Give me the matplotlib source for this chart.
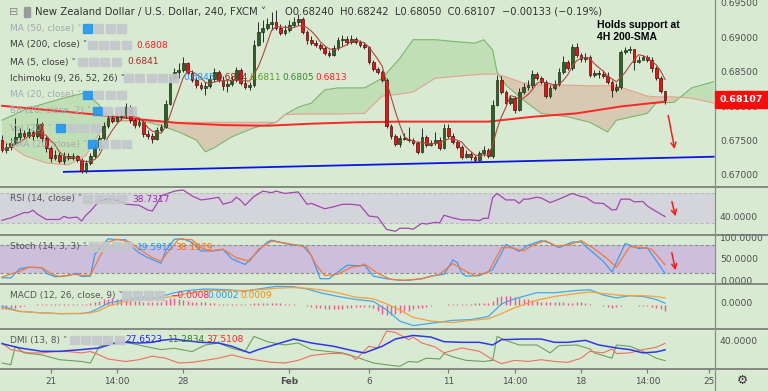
import numpy as np
import pandas as pd
import matplotlib
matplotlib.use("Agg")
import matplotlib.pyplot as plt
from matplotlib.lines import Line2D
from matplotlib.patches import Rectangle

W, H = 768, 391
AX_R = 715          # pixel x of the price-scale border
XMIN, XMAX = -0.45, 161.3

BG = "#d9ead3"
SEP = "#6e6e6e"
AXIS_TXT = "#4d4d4d"

plt.rcParams["font.family"] = ["DejaVu Sans"]

# ---- NZD/USD 240 candles ----
first_open = 0.6752
closes = [0.6738, 0.6742, 0.6748, 0.6756, 0.6762, 0.6758, 0.6764, 0.6758, 0.6776, 0.6755,
          0.6741, 0.6726, 0.6730, 0.6722, 0.6729, 0.6726, 0.6729, 0.6723, 0.6707, 0.6719,
          0.6729, 0.6742, 0.6755, 0.6773, 0.6784, 0.6780, 0.6786, 0.6789, 0.6800, 0.6781,
          0.6774, 0.6778, 0.6761, 0.6758, 0.6754, 0.6767, 0.6771, 0.6805, 0.6842, 0.6851,
          0.6854, 0.6864, 0.6850, 0.6839, 0.6832, 0.6828, 0.6831, 0.6841, 0.6851, 0.6839,
          0.6831, 0.6834, 0.6839, 0.6854, 0.6835, 0.6829, 0.6832, 0.6890, 0.6909, 0.6915,
          0.6921, 0.6924, 0.6915, 0.6908, 0.6912, 0.6919, 0.6924, 0.6928, 0.6909, 0.6898,
          0.6893, 0.6890, 0.6886, 0.6879, 0.6876, 0.6886, 0.6898, 0.6899, 0.6895, 0.6899,
          0.6895, 0.6890, 0.6887, 0.6866, 0.6855, 0.6851, 0.6839, 0.6773, 0.6758, 0.6746,
          0.6755, 0.6754, 0.6752, 0.6748, 0.6735, 0.6756, 0.6745, 0.6748, 0.6752, 0.6741,
          0.6770, 0.6758, 0.6749, 0.6742, 0.6728, 0.6732, 0.6728, 0.6723, 0.6733, 0.6738,
          0.6729, 0.6803, 0.6839, 0.6822, 0.6806, 0.6813, 0.6796, 0.6822, 0.6829, 0.6832,
          0.6848, 0.6842, 0.6837, 0.6816, 0.6828, 0.6834, 0.6851, 0.6866, 0.6857, 0.6887,
          0.6876, 0.6870, 0.6873, 0.6847, 0.6850, 0.6848, 0.6845, 0.6837, 0.6825, 0.6829,
          0.6880, 0.6883, 0.6884, 0.6866, 0.6868, 0.6873, 0.6868, 0.6857, 0.6842, 0.6824,
          0.68107]
highs = [0.6759, 0.6748, 0.6755, 0.6784, 0.6770, 0.6767, 0.6770, 0.6767, 0.6784, 0.6778,
         0.6758, 0.6744, 0.6738, 0.6735, 0.6735, 0.6733, 0.6733, 0.6730, 0.6726, 0.6723,
         0.6733, 0.6746, 0.6759, 0.6778, 0.6789, 0.6789, 0.6791, 0.6796, 0.6806, 0.6803,
         0.6784, 0.6784, 0.6781, 0.6767, 0.6762, 0.6771, 0.6776, 0.6810, 0.6847, 0.6857,
         0.6864, 0.6873, 0.6866, 0.6854, 0.6844, 0.6837, 0.6837, 0.6847, 0.6857, 0.6854,
         0.6845, 0.6839, 0.6845, 0.6858, 0.6857, 0.6841, 0.6837, 0.6898, 0.6924, 0.6927,
         0.6930, 0.6938, 0.6941, 0.6921, 0.6919, 0.6927, 0.6931, 0.6935, 0.6931, 0.6912,
         0.6903, 0.6898, 0.6893, 0.6889, 0.6883, 0.6890, 0.6902, 0.6905, 0.6903, 0.6905,
         0.6902, 0.6898, 0.6895, 0.6889, 0.6868, 0.6858, 0.6854, 0.6842, 0.6776, 0.6761,
         0.6759, 0.6762, 0.6771, 0.6755, 0.6751, 0.6770, 0.6759, 0.6752, 0.6764, 0.6756,
         0.6776, 0.6776, 0.6762, 0.6752, 0.6745, 0.6738, 0.6735, 0.6730, 0.6736, 0.6744,
         0.6741, 0.6810, 0.6847, 0.6845, 0.6825, 0.6818, 0.6816, 0.6828, 0.6835, 0.6839,
         0.6854, 0.6851, 0.6845, 0.6839, 0.6832, 0.6839, 0.6857, 0.6874, 0.6868, 0.6892,
         0.6893, 0.6879, 0.6879, 0.6876, 0.6854, 0.6854, 0.6854, 0.6851, 0.6839, 0.6835,
         0.6883, 0.6887, 0.6889, 0.6884, 0.6874, 0.6876, 0.6876, 0.6873, 0.6860, 0.6845,
         0.68242]
lows = [0.6735, 0.6733, 0.6738, 0.6746, 0.6752, 0.6755, 0.6755, 0.6752, 0.6755, 0.6749,
        0.6735, 0.6720, 0.6723, 0.6719, 0.6717, 0.6723, 0.6723, 0.6720, 0.6704, 0.6704,
        0.6716, 0.6726, 0.6738, 0.6752, 0.6770, 0.6777, 0.6778, 0.6781, 0.6784, 0.6777,
        0.6770, 0.6771, 0.6756, 0.6754, 0.6748, 0.6752, 0.6764, 0.6770, 0.6803, 0.6839,
        0.6842, 0.6851, 0.6847, 0.6837, 0.6828, 0.6825, 0.6818, 0.6828, 0.6837, 0.6837,
        0.6825, 0.6822, 0.6831, 0.6837, 0.6832, 0.6826, 0.6825, 0.6829, 0.6889, 0.6895,
        0.6912, 0.6912, 0.6912, 0.6905, 0.6905, 0.6909, 0.6916, 0.6919, 0.6906, 0.6892,
        0.6890, 0.6887, 0.6883, 0.6876, 0.6873, 0.6874, 0.6883, 0.6889, 0.6890, 0.6892,
        0.6892, 0.6887, 0.6884, 0.6863, 0.6852, 0.6848, 0.6837, 0.6770, 0.6754, 0.6744,
        0.6742, 0.6752, 0.6749, 0.6745, 0.6732, 0.6733, 0.6742, 0.6744, 0.6745, 0.6738,
        0.6739, 0.6755, 0.6746, 0.6739, 0.6725, 0.6726, 0.6723, 0.6720, 0.6722, 0.6729,
        0.6726, 0.6726, 0.6802, 0.6819, 0.6803, 0.6803, 0.6791, 0.6794, 0.6819, 0.6825,
        0.6828, 0.6839, 0.6834, 0.6813, 0.6813, 0.6825, 0.6831, 0.6848, 0.6854, 0.6854,
        0.6873, 0.6866, 0.6866, 0.6844, 0.6844, 0.6842, 0.6842, 0.6834, 0.6815, 0.6822,
        0.6826, 0.6877, 0.6879, 0.6854, 0.6864, 0.6868, 0.6866, 0.6851, 0.6839, 0.6821,
        0.6805]

# MA(200) read at every 10th bar
ma200_idx = [0, 10, 20, 30, 40, 50, 60, 70, 80, 90, 100, 110, 120, 130, 140, 150]
ma200_val = [0.6802, 0.6796, 0.6790, 0.6783, 0.6777, 0.6774, 0.6773, 0.6776, 0.6778, 0.6779,
             0.6779, 0.6779, 0.6786, 0.6791, 0.6801, 0.6808]

# Ichimoku leading spans (cloud), sampled along the bars
cloud_idx = [0, 5, 10, 15, 19, 22, 24, 27, 32, 36, 40, 44, 46, 48, 52, 57, 62, 64, 67, 70,
             73, 76, 82, 86, 90, 93, 98, 103, 107, 109, 111, 112, 114, 118, 122, 128, 133,
             137, 139, 146, 148, 152, 156, 161]
span_a = [0.6781, 0.6796, 0.6806, 0.6815, 0.6821, 0.6803, 0.6786, 0.6781, 0.6780, 0.6773,
          0.6764, 0.6752, 0.6735, 0.6741, 0.6757, 0.6770, 0.6778, 0.6789, 0.6800, 0.6806,
          0.6825, 0.6828, 0.6828, 0.6842, 0.6871, 0.6898, 0.6898, 0.6895, 0.6893, 0.6898,
          0.6883, 0.6851, 0.6832, 0.6810, 0.6791, 0.6786, 0.6778, 0.6764, 0.6781, 0.6791,
          0.6806, 0.6807, 0.6828, 0.6837]
span_b = [0.6752, 0.6730, 0.6719, 0.6716, 0.6730, 0.6762, 0.6778, 0.6780, 0.6780, 0.6778,
          0.6778, 0.6778, 0.6778, 0.6778, 0.6778, 0.6778, 0.6778, 0.6789, 0.6790, 0.6790,
          0.6790, 0.6790, 0.6791, 0.6816, 0.6819, 0.6822, 0.6842, 0.6845, 0.6847, 0.6848,
          0.6848, 0.6848, 0.6844, 0.6835, 0.6832, 0.6832, 0.6831, 0.6831, 0.6831, 0.6816,
          0.6815, 0.6815, 0.6813, 0.6806]

# support trendline
trend_idx = [14, 161]
trend_px = [0.6706, 0.6728]

# RSI (14)
rsi_idx = [0, 2, 5, 6, 7, 8, 10, 13, 14, 15, 17, 18, 19, 20, 22, 24, 26, 28, 31, 33, 34, 35,
           36, 38, 39, 41, 43, 45, 47, 49, 50, 52, 53, 54, 55, 57, 59, 61, 62, 64, 67, 69,
           70, 73, 75, 77, 79, 81, 83, 85, 87, 89, 90, 92, 93, 95, 96, 98, 99, 100, 102,
           104, 106, 108, 109, 110, 111, 112, 114, 116, 117, 118, 119, 121, 122, 124, 126,
           127, 129, 131, 132, 134, 136, 138, 139, 140, 142, 143, 145, 146, 148, 150]
rsi_val = [34, 37, 44, 44, 47, 42, 35, 35, 39, 37, 38, 33, 40.5, 46, 59, 62, 60, 55, 53.5,
           47.4, 46, 55, 65.7, 70, 72, 73.5, 65.7, 60.5, 62, 64, 55, 58, 64, 60, 53.5, 65,
           72, 70, 72, 69, 71, 54.8, 56, 49, 51.5, 54.8, 54.8, 53.5, 39.5, 38, 22, 19.6,
           23.5, 23.5, 22.2, 30, 29, 31.3, 30.5, 40.5, 37, 34.5, 34.5, 33.5, 36.5, 36.5,
           63.5, 69, 60.5, 60.5, 56, 61.5, 61.5, 64, 63, 57, 61.5, 64, 69, 65, 64, 56.5,
           56, 47.4, 48, 61.5, 61.5, 58, 58.5, 52.5, 45.5, 38.73]

# Stoch (14, 3, 3)
k_idx = [0, 2, 4, 6, 9, 10, 12, 15, 17, 18, 20, 21, 24, 26, 28, 29, 31, 33, 36, 37, 39, 41,
         43, 45, 48, 50, 52, 55, 58, 60, 61, 64, 66, 68, 70, 72, 74, 76, 78, 79, 81, 82, 84,
         87, 90, 92, 95, 97, 100, 102, 103, 104, 105, 108, 111, 114, 117, 119, 122, 124,
         126, 129, 131, 133, 136, 138, 141, 144, 146, 147, 150]
k_val = [10.6, 10, 30, 33, 32, 20, 12.7, 15, 20, 13, 14, 60.7, 94, 92, 92, 80, 64, 53.5,
         41.5, 68, 93, 94, 86, 68, 68, 71.5, 51, 39, 68, 87, 91, 84, 80, 80, 58, 8.4, 8.4,
         22.8, 37, 37, 36, 37.8, 14, 8.4, 5, 5, 8.4, 14, 18, 48.5, 43, 20, 14, 15, 28, 82,
         67, 80, 90, 85, 75, 87, 87, 70, 46, 23, 84, 73, 75, 61, 19.59]
d_idx = [0, 4, 6, 9, 11, 13, 16, 18, 20, 22, 24, 26, 29, 31, 34, 36, 38, 40, 43, 45, 47, 50,
         53, 56, 58, 61, 64, 67, 69, 71, 73, 76, 79, 81, 82, 85, 88, 91, 95, 99, 102, 105,
         107, 110, 113, 115, 118, 120, 123, 125, 128, 131, 134, 137, 139, 142, 145, 147, 150]
d_val = [12, 24.5, 33, 32, 20, 12.7, 18, 16, 16, 53.5, 87, 93, 87, 72, 53.5, 46, 71.5, 93,
         92, 75, 68, 71.5, 53.5, 46, 71.5, 89, 85, 80, 75, 39, 15, 18, 33, 36, 40, 20, 7, 5,
         8.4, 18, 41, 24, 15, 22, 75, 75, 68, 80, 90, 79, 80, 90, 72.7, 50.7, 33, 77, 75,
         71.5, 38.2]

# MACD (12, 26, close, 9)
macd_idx = [0, 4, 9, 13, 18, 20, 22, 24, 28, 32, 34, 36, 39, 42, 46, 51, 55, 58, 62, 66, 69,
            72, 76, 80, 84, 87, 90, 93, 97, 102, 106, 110, 113, 116, 121, 125, 130, 133,
            136, 139, 142, 145, 148, 150]
macd_line = [-0.0002, -0.0009, -0.0011, -0.0012, -0.0012, -0.0010, -0.00045, 0.0002, 0.0007,
             0.0010, 0.0009, 0.0011, 0.0016, 0.0019, 0.0021, 0.0020, 0.0018, 0.0021, 0.00245,
             0.0024, 0.0021, 0.0016, 0.0011, 0.0007, 0.00045, -0.0007, -0.0022, -0.0028,
             -0.0025, -0.0021, -0.0020, -0.0016, 0.0001, 0.0008, 0.0016, 0.0016, 0.0019,
             0.0020, 0.0013, 0.0009, 0.0012, 0.0011, 0.0007, 0.0002]
macd_signal = [-0.00045, -0.0009, -0.0011, -0.0012, -0.00115, -0.0011, -0.0008, -0.0002,
               0.00045, 0.0007, 0.0008, 0.0009, 0.0011, 0.0015, 0.0019, 0.0019, 0.0019,
               0.0020, 0.0022, 0.0023, 0.0022, 0.0020, 0.0016, 0.0010, 0.0008, 0.0001,
               -0.0007, -0.0017, -0.0022, -0.0024, -0.0021, -0.0019, -0.0012, -0.0004,
               0.0006, 0.0011, 0.0015, 0.0017, 0.0015, 0.0013, 0.0012, 0.0012, 0.0011, 0.0009]
macd_hist = [-0.0006, -0.0006, -0.0005, -0.0005,
             -0.0003, -0.0002, -0.0001, -0.0001, 0.0001, 0.0001, 0.0001, 0.0001, 0.0001,
             0.0001, 0.0001, 0.0001, 0.0001, 0.0001, 0.0001, 0.0001, 0.0002, 0.0003,
             0.0005, 0.0007, 0.0008, 0.0009, 0.0008, 0.0008,
             0.0007, 0.0006, 0.0005, 0.0005, 0.0004, 0.0003, 0.0003, 0.0003, 0.0004, 0.0006,
             0.0009, 0.0009, 0.0008,
             0.0006, 0.0005, 0.0004, 0.0004, 0.0003, 0.0003, 0.0002,
             0.0002, 0.0001, 0.0001, 0.0001, 0.0001, 0.0001, 0.0001, 0.0001, 0.0001,
             0.0002, 0.0002, 0.0002, 0.0002, 0.0002, 0.0002, 0.0002, 0.0001, 0.0001, 0.0001,
             0.0, -0.0001, -0.0002, -0.0003, -0.0004, -0.0005, -0.0006, -0.0006, -0.0006,
             -0.0006, -0.0006, -0.0005, -0.0004, -0.0003,
             -0.0003, -0.0003, -0.0003, -0.0004,
             -0.0008, -0.0012, -0.0014, -0.0014, -0.0013, -0.0011,
             -0.0009, -0.0008, -0.0006, -0.0005, -0.0004, -0.0003, -0.0002,
             -0.0001, -0.0001, 0.0, 0.0001, 0.0001, 0.0001, 0.0001, 0.0001, 0.0001,
             0.0002, 0.0002, 0.0002, 0.0002,
             0.0005, 0.0010, 0.0012, 0.0012, 0.0011, 0.0010, 0.0009, 0.0008, 0.0007,
             0.0006, 0.0005, 0.0004, 0.0003, 0.0003, 0.0003, 0.0003,
             0.0003, 0.0002, 0.0002, 0.0003, 0.0003, 0.0002, 0.0001,
             -0.0001, -0.0001, -0.0002, -0.0003, -0.0004, -0.0003, -0.0002, -0.0001,
             -0.0001, -0.0001, -0.0002, -0.0002, -0.0002, -0.0003, -0.0004, -0.0006,
             -0.0008]

# DMI (13, 8)
adx_idx = [0, 4, 9, 13, 18, 22, 25, 28, 31, 34, 36, 39, 41, 45, 49, 52, 56, 58, 61, 66, 70,
           75, 80, 82, 86, 89, 93, 97, 100, 104, 108, 111, 113, 118, 122, 125, 128, 132,
           135, 139, 142, 145, 148, 150]
adx_val = [37, 30.5, 25.4, 25.4, 28, 30.5, 37, 39, 38, 39, 42, 44, 42, 39, 38, 33, 23, 28,
           34, 44, 38, 33, 25.4, 23, 33, 44, 49.5, 47, 40, 39, 39, 35, 43, 44, 44, 39, 39,
           42, 35, 30.5, 28, 23, 24.4, 27.65]
pdi_idx = [0, 2, 3, 5, 9, 13, 18, 20, 22, 25, 28, 31, 33, 36, 39, 43, 46, 49, 52, 55, 57,
           60, 64, 67, 70, 74, 77, 80, 84, 87, 90, 92, 94, 96, 99, 100, 102, 105, 109, 111,
           112, 114, 117, 121, 124, 126, 130, 133, 134, 138, 139, 142, 145, 148, 150]
pdi_val = [7.7, 5, 33, 23, 20, 12.7, 10, 7.7, 33, 38, 39, 35, 32, 28, 30, 25, 35, 38, 30,
           25, 48, 40, 35, 38, 28, 25, 23, 17, 7.7, 5, 2.7, 10, 9, 15, 13.7, 22, 17, 11.7,
           10, 11.7, 48, 42, 35, 35, 23, 34, 35, 29, 23, 15, 35, 33, 25.4, 15, 11.28]
mdi_idx = [0, 2, 6, 9, 12, 15, 18, 20, 22, 24, 28, 31, 34, 37, 40, 43, 46, 49, 52, 55, 58,
           61, 64, 67, 70, 74, 77, 79, 80, 83, 85, 87, 89, 92, 93, 95, 98, 100, 104, 108,
           111, 113, 116, 119, 122, 125, 128, 131, 133, 136, 138, 139, 142, 145, 148, 150]
mdi_val = [38, 28, 23, 23, 25, 25, 23, 25, 20, 13.7, 10, 12.7, 18, 15, 7.7, 8.7, 11.7, 15,
           20, 15, 11.7, 8.7, 7.7, 11.7, 19, 22, 22, 19, 13, 33, 30.5, 56, 54, 43, 47, 38,
           32, 23, 30.5, 25.4, 12.7, 6.7, 11.7, 10, 12.7, 10, 8.7, 15, 25.4, 23, 29, 22, 23,
           28, 31.5, 37.51]

# time axis
tick_idx = [11, 26, 41, 65, 83, 101, 116, 131, 146, 160]
tick_lab = ["21", "14:00", "28", "Feb", "6", "11", "14:00", "18", "14:00", "25"]

price_ticks = [0.695, 0.690, 0.685, 0.680, 0.675, 0.670]

# ---------------------------------------------------------------
closes = np.array(closes)
opens = np.array([first_open] + list(closes[:-1]))
highs = np.maximum(np.array(highs), np.maximum(opens, closes))
lows = np.minimum(np.array(lows), np.minimum(opens, closes))
idx = np.arange(len(closes))
ma5 = pd.Series(closes).rolling(5, min_periods=1).mean()

fig = plt.figure(figsize=(W / 100, H / 100), dpi=100)
fig.patch.set_facecolor(BG)


def panel(top, bottom, ylo, yhi):
    a = fig.add_axes([0, 1 - bottom / H, AX_R / W, (bottom - top) / H])
    a.set_facecolor("none")
    a.set_xlim(XMIN, XMAX)
    a.set_ylim(ylo, yhi)
    for s in a.spines.values():
        s.set_visible(False)
    a.set_xticks([])
    a.set_yticks([])
    return a


def ftext(x, y, s, **kw):
    kw.setdefault("va", "center")
    kw.setdefault("ha", "left")
    return fig.text(x / W, 1 - y / H, s, **kw)


def fbox(x, y, w, h, color, **kw):
    fig.add_artist(Rectangle((x / W, 1 - (y + h) / H), w / W, h / H, color=color,
                             transform=fig.transFigure, **kw))


ax = panel(0, 187, 0.66840, 0.69557)
ax_rsi = panel(187, 235, 14.7, 77.4)
ax_st = panel(235, 284, -2.9, 102.1)
ax_macd = panel(284, 329, -0.00326, 0.00277)
ax_dmi = panel(329, 369, -1.4, 59.2)

# --- main price panel ---
up = closes >= opens
x_a = np.array(cloud_idx)
sa = np.array(span_a)
sb = np.array(span_b)
ax.fill_between(x_a, sa, sb, where=sa >= sb, interpolate=True, color="#c1dfb6", lw=0, zorder=1)
ax.fill_between(x_a, sa, sb, where=sa < sb, interpolate=True, color="#d8cab2", lw=0, zorder=1)
ax.plot(x_a, sa, color="#79b86a", lw=0.8, zorder=2)
ax.plot(x_a, sb, color="#e8a08e", lw=0.8, zorder=2)

ax.plot(ma200_idx, ma200_val, color="#ff2626", lw=1.4, zorder=3)
ax.plot(trend_idx, trend_px, color="#0a14e6", lw=1.3, zorder=3)

ax.vlines(idx, lows, highs, color="#2b2b2b", lw=0.7, zorder=4)
body_lo = np.minimum(opens, closes)
body_h = np.maximum(np.abs(closes - opens), 0.00004)
ax.bar(idx[up], body_h[up], bottom=body_lo[up], width=0.62, color="#2f6128",
       edgecolor="#1c3317", lw=0.5, zorder=5)
ax.bar(idx[~up], body_h[~up], bottom=body_lo[~up], width=0.62, color="#f01010",
       edgecolor="#4a0d0d", lw=0.5, zorder=5)
ax.plot(idx, ma5, color="#b0453c", lw=0.8, zorder=6)

ax.annotate("", xy=(152.3, 0.6735), xytext=(150.6, 0.6792),
            arrowprops=dict(arrowstyle="->", color="#ff1a1a", lw=1.1, mutation_scale=9))

# --- RSI ---
ax_rsi.axhspan(30, 70, color="#d4d5da", lw=0)
for lvl in (30, 70):
    ax_rsi.axhline(lvl, color="#b9b9bd", lw=0.8, ls=(0, (3, 2)))
ax_rsi.plot(rsi_idx, rsi_val, color="#a445b2", lw=0.9)
ax_rsi.annotate("", xy=(152.5, 35.6), xytext=(151.4, 61.8),
                arrowprops=dict(arrowstyle="->", color="#ff1a1a", lw=1.1, mutation_scale=9))

# --- Stoch ---
ax_st.axhspan(20, 80, color="#cdbedc", lw=0)
for lvl in (20, 80):
    ax_st.axhline(lvl, color="#8c8c8c", lw=0.8, ls=(0, (3, 2)))
ax_st.plot(k_idx, k_val, color="#3d9bf0", lw=0.9)
ax_st.plot(d_idx, d_val, color="#f5793a", lw=0.9)
ax_st.annotate("", xy=(152.5, 20.6), xytext=(151.4, 70),
               arrowprops=dict(arrowstyle="->", color="#ff1a1a", lw=1.1, mutation_scale=9))

# --- MACD ---
ax_macd.vlines(idx, 0, macd_hist, color="#f25590", lw=1.0)
ax_macd.plot(macd_idx, macd_line, color="#43a8f0", lw=0.9)
ax_macd.plot(macd_idx, macd_signal, color="#f7a03c", lw=0.9)

# --- DMI ---
ax_dmi.plot(pdi_idx, pdi_val, color="#6f9f5f", lw=0.8)
ax_dmi.plot(mdi_idx, mdi_val, color="#ef6f62", lw=0.8)
ax_dmi.plot(adx_idx, adx_val, color="#2f37e8", lw=1.1)

ax_dmi.set_xticks(tick_idx)
ax_dmi.set_xticklabels(tick_lab, fontsize=6.4, color=AXIS_TXT)
ax_dmi.tick_params(axis="x", length=3, width=0.8, color="#777777", pad=3)
for t in ax_dmi.get_xticklabels():
    if t.get_text() == "Feb":
        t.set_fontweight("bold")

# --- separators and the price-scale border ---
for yy in (187, 235, 284, 329, 369):
    fig.add_artist(Line2D([0, 1], [1 - yy / H] * 2, color=SEP, lw=1.1,
                          transform=fig.transFigure, zorder=10))
fig.add_artist(Line2D([AX_R / W] * 2, [0, 1], color="#8c8c8c", lw=0.9,
                      transform=fig.transFigure, zorder=10))

# --- right scale labels ---
for p in price_ticks:
    yy = (0.69557 - p) / 0.0001453
    ftext(720, yy, f"{p:.5f}", fontsize=6.6, color=AXIS_TXT)
fbox(715, 91, 53, 17, "#ff0a0a", zorder=11)
ftext(741, 99.5, "0.68107", fontsize=6.8, color="white", fontweight="bold", ha="center",
      zorder=12)
ftext(720, 217, "40.0000", fontsize=6.6, color=AXIS_TXT)
ftext(720, 238, "100.0000", fontsize=6.6, color=AXIS_TXT)
ftext(720, 259, "50.0000", fontsize=6.6, color=AXIS_TXT)
ftext(720, 282, "0.0000", fontsize=6.6, color=AXIS_TXT)
ftext(720, 304, "0.0000", fontsize=6.6, color=AXIS_TXT)
ftext(720, 342, "40.0000", fontsize=6.6, color=AXIS_TXT)
ftext(742, 380, "\u2699", fontsize=9, color="#333333", ha="center")

# --- header / legends ---
ftext(9, 12, "\u229f", fontsize=8, color="#8a8a8a")
fbox(24, 7, 6, 10, "#9a9a9a")
ftext(35, 12, "New Zealand Dollar / U.S. Dollar, 240, FXCM \u02c5", fontsize=7.3,
      color="#333333")
ftext(285, 12, "O0.68240  H0.68242  L0.68050  C0.68107  \u22120.00133 (\u22120.19%)",
      fontsize=7.2, color="#333333")

ftext(597, 25, "Holds support at", fontsize=7.5, fontweight="bold",
      family="Liberation Sans", color="black")
ftext(597, 37.5, "4H 200-SMA", fontsize=7.5, fontweight="bold",
      family="Liberation Sans", color="black")

GRAY_ICON = "#c3c8cc"
BLUE_ICON = "#2196f3"
DARK = "#3d3d3d"
LIGHT = "#a3a8ad"


def legend_row(y, label, color, icons, blue_first=False):
    ftext(10, y, label + " \u02c5", fontsize=6.5, color=color)
    for n, xi in enumerate(icons):
        c = BLUE_ICON if (blue_first and n == 0) else GRAY_ICON
        fbox(xi, y - 4.5, 8.5, 8.5, c, alpha=0.9)


legend_row(28.5, "MA (50, close)", LIGHT, [83, 94, 106, 117], True)
legend_row(45, "MA (200, close)", DARK, [88, 99, 110, 122])
ftext(136, 45, "0.6808", fontsize=6.5, color="#ff1a1a")
legend_row(62, "MA (5, close)", DARK, [78, 89, 100, 112])
ftext(127, 62, "0.6841", fontsize=6.5, color="#a52a2a")
legend_row(78, "Ichimoku (9, 26, 52, 26)", DARK, [124, 135, 147, 158, 169])
ftext(183, 78, "0.6845", fontsize=6.5, color="#2196f3")
ftext(216, 78, "0.6844", fontsize=6.5, color="#9a1a1a")
ftext(249, 78, "0.6811", fontsize=6.5, color="#5f9a2a")
ftext(282, 78, "0.6805", fontsize=6.5, color="#2e8b2e")
ftext(315, 78, "0.6813", fontsize=6.5, color="#ff2020")
legend_row(95, "MA (20, close)", LIGHT, [83, 94, 106, 117], True)
legend_row(111, "BB (20, close, 2)", LIGHT, [93, 103, 115, 127], True)
legend_row(128, "Vol (20)", LIGHT, [56, 68, 79, 91], True)
legend_row(144, "EMA (20, close)", LIGHT, [88, 99, 111, 122], True)

legend_row(199, "RSI (14, close)", "#555555", [83, 95, 106, 117])
ftext(132, 199, "38.7317", fontsize=6.5, color="#9c27b0")
legend_row(247, "Stoch (14, 3, 3)", "#555555", [89, 100, 112, 123])
ftext(137, 247, "19.5915", fontsize=6.5, color="#2196f3")
ftext(175, 247, "38.1979", fontsize=6.5, color="#ff6d00")
legend_row(295.5, "MACD (12, 26, close, 9)", "#555555", [122, 133, 144, 155])
ftext(170, 295.5, "\u22120.0008", fontsize=6.5, color="#ff1e5a")
ftext(207, 295.5, "0.0002", fontsize=6.5, color="#2196f3")
ftext(240, 295.5, "0.0009", fontsize=6.5, color="#ff8a00")
legend_row(340, "DMI (13, 8)", "#555555", [70, 81, 92, 103, 115])
ftext(125, 340, "27.6523", fontsize=6.5, color="#2424ff")
ftext(168, 340, "11.2834", fontsize=6.5, color="#3b7a2a")
ftext(206, 340, "37.5108", fontsize=6.5, color="#ff2222")

fig.savefig("out.png", dpi=100, facecolor=BG)
